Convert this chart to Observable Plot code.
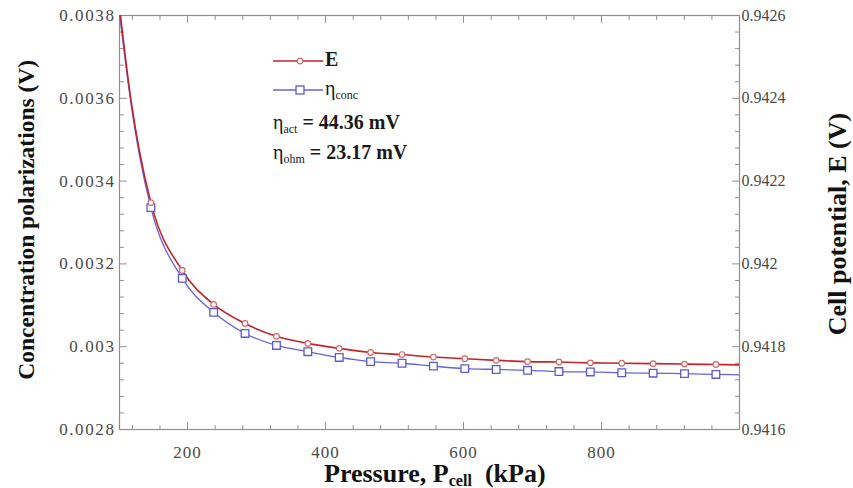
<!DOCTYPE html>
<html>
<head>
<meta charset="utf-8">
<script src="https://cdn.jsdelivr.net/npm/d3@7"></script>
<script src="https://cdn.jsdelivr.net/npm/@observablehq/plot@0.6"></script>
<style>
  body { margin: 0; background: #fff; }
  #wrap { position: relative; width: 853px; height: 488px; font-family: "Liberation Serif", "Times New Roman", serif; }
  #wrap svg text { font-family: "Liberation Serif", "Times New Roman", serif; }
  .title { position: absolute; font-weight: bold; color: #111; white-space: nowrap; line-height: 1; }
  .title sub { font-size: 0.62em; vertical-align: -0.22em; }
  .lrow { position: absolute; left: 273px; font-weight: bold; font-size: 20px; color: #1a1a1a; white-space: nowrap; line-height: 1; }
  .lrow sub { font-size: 12px; vertical-align: -4px; }
  .lrow .eta { font-weight: normal; }
</style>
</head>
<body>
<div id="wrap"></div>
<script>
// ----- data -----
const pressure = [101.3, 118, 130, 146.8, 192.3, 237.8, 283.3, 328.8, 374.3, 419.8, 465.3, 510.8, 556.3, 601.8, 647.3, 692.8, 738.3, 783.8, 829.3, 874.8, 920.3, 965.8, 1000];
const hasMarker = [0, 0, 0, 1, 1, 1, 1, 1, 1, 1, 1, 1, 1, 1, 1, 1, 1, 1, 1, 1, 1, 1, 0];
const etaConc = [0.003805, 0.003587, 0.003464, 0.003336, 0.003165, 0.003083, 0.003032, 0.003003, 0.002988, 0.002974, 0.002964, 0.002960, 0.002953, 0.002947, 0.002945, 0.002943, 0.002940, 0.002939, 0.002937, 0.002936, 0.002935, 0.002933, 0.002932];
const cellPotential = [0.94262, 0.942395, 0.942274, 0.942148, 0.941984, 0.941902, 0.941856, 0.941825, 0.941808, 0.941796, 0.941786, 0.941781, 0.941775, 0.941771, 0.941767, 0.941764, 0.941763, 0.941761, 0.941760, 0.941759, 0.941758, 0.941757, 0.941756];

const xMajorTicks = [200, 400, 600, 800];
const xMinorTicks = [120, 160, 240, 280, 320, 360, 440, 480, 520, 560, 640, 680, 720, 760, 840, 880, 920, 960];
const leftTicks = [0.0028, 0.0030, 0.0032, 0.0034, 0.0036, 0.0038];
const leftTickLabels = ["0.0028", "0.003", "0.0032", "0.0034", "0.0036", "0.0038"];
const rightTicks = [0.9416, 0.9418, 0.9420, 0.9422, 0.9424, 0.9426];
const rightTickLabels = ["0.9416", "0.9418", "0.942", "0.9422", "0.9424", "0.9426"];
const yMinorStep = 0.00004;

const leftDomain = [0.0028, 0.0038];
const rightDomain = [0.9416, 0.9426];
// map right-axis (E) values onto the left scale
const toLeft = v => leftDomain[0] + (v - rightDomain[0]) * (leftDomain[1] - leftDomain[0]) / (rightDomain[1] - rightDomain[0]);

const rows = pressure.map((p, i) => ({p, eta: etaConc[i], e: toLeft(cellPotential[i]), m: hasMarker[i]}));
const markRows = rows.filter(d => d.m);

const yMinorLeft = d3.range(0, 26).map(i => leftDomain[0] + i * yMinorStep).filter(v => !leftTicks.some(t => Math.abs(t - v) < 1e-9));

const tickShape = {draw(ctx, l) { ctx.moveTo(0, 0); ctx.lineTo(0, -l); }};
const axisColor = "#8f8f8f";
const labelColor = "#4a4a4a";
const redLine = "#c3242c", blueLine = "#6464d8", redMark = "#d26a6a", blueMark = "#5a5ad2";

function ticksAt(data, anchor, length, isX) {
  const rotate = {bottom: 0, top: 180, left: 90, right: -90}[anchor];
  return Plot.vector(data, {
    [isX ? "x" : "y"]: d => d,
    frameAnchor: anchor, length, rotate, anchor: "start", shape: tickShape,
    stroke: axisColor, strokeWidth: 1
  });
}

const chart = Plot.plot({
  width: 853,
  height: 488,
  marginLeft: 119,
  marginRight: 114,
  marginTop: 15,
  marginBottom: 59,
  style: {fontFamily: '"Liberation Serif", "Times New Roman", serif', fontSize: "16px", background: "white"},
  x: {domain: [101.3, 1000]},
  y: {domain: leftDomain},
  marks: [
    Plot.frame({stroke: axisColor, strokeWidth: 1.2}),
    ticksAt(xMajorTicks, "bottom", 7, true),
    ticksAt(xMinorTicks, "bottom", 4, true),
    ticksAt(xMajorTicks, "top", 7, true),
    ticksAt(xMinorTicks, "top", 4, true),
    ticksAt(leftTicks, "left", 7, false),
    ticksAt(yMinorLeft, "left", 4, false),
    ticksAt(leftTicks, "right", 7, false),
    ticksAt(yMinorLeft, "right", 4, false),
    Plot.axisX({ticks: xMajorTicks, tickSize: 0, tickPadding: 16, tickFormat: d => String(d), fill: labelColor, fontSize: 17, label: null}),
    Plot.axisY({anchor: "left", ticks: leftTicks, tickSize: 0, tickPadding: 4, tickFormat: (d, i) => leftTickLabels[i], fill: labelColor, fontSize: 17, label: null}),
    Plot.axisY({anchor: "right", ticks: rightTicks.map(toLeft), tickSize: 0, tickPadding: 2, tickFormat: (d, i) => rightTickLabels[i], fill: labelColor, fontSize: 16, label: null}),
    Plot.line(rows, {x: "p", y: "eta", stroke: blueLine, strokeWidth: 1.3, curve: "monotone-x", clip: true}),
    Plot.line(rows, {x: "p", y: "e", stroke: redLine, strokeWidth: 1.6, curve: "monotone-x", clip: true}),
    Plot.dot(markRows, {x: "p", y: "eta", symbol: "square", r: 4.3, stroke: blueMark, strokeWidth: 1.3, fill: "white", clip: true}),
    Plot.dot(markRows, {x: "p", y: "e", symbol: "circle", r: 2.8, stroke: redMark, strokeWidth: 1.2, fill: "white", clip: true})
  ]
});

// slightly widen the horizontal tick labels, as in the reference
const yLabelGroups = chart.querySelectorAll('g[aria-label="y-axis tick label"]');
if (yLabelGroups[0]) yLabelGroups[0].querySelectorAll("text").forEach(t => t.style.letterSpacing = "1.6px");
chart.querySelectorAll('g[aria-label="x-axis tick label"] text').forEach(t => t.style.letterSpacing = "1px");

const wrap = document.getElementById("wrap");
chart.style.position = "absolute";
chart.style.left = "0px";
chart.style.top = "0px";
wrap.appendChild(chart);

function addTitle(html, cx, cy, rot, size) {
  const d = document.createElement("div");
  d.className = "title";
  d.style.fontSize = size + "px";
  d.innerHTML = html;
  wrap.appendChild(d);
  const w = d.offsetWidth, h = d.offsetHeight;
  d.style.left = (cx - w / 2) + "px";
  d.style.top = (cy - h / 2) + "px";
  if (rot) d.style.transform = `rotate(${rot}deg)`;
}
addTitle("Concentration polarizations (V)", 27, 220, -90, 23.5);
addTitle("Cell potential, E (V)", 838, 224, -90, 26);
addTitle("Pressure, P<sub>cell</sub>&nbsp; (kPa)", 435, 475, 0, 26);

// legend
function sample(symbol) {
  const s = d3.create("svg").attr("width", 50).attr("height", 14).style("vertical-align", "middle").style("margin-right", "2px");
  s.append("line").attr("x1", 0).attr("x2", 50).attr("y1", 7).attr("y2", 7)
    .attr("stroke", symbol === "circle" ? redLine : blueLine).attr("stroke-width", 1.5);
  if (symbol === "circle") s.append("circle").attr("cx", 27).attr("cy", 7).attr("r", 2.8).attr("fill", "white").attr("stroke", redMark).attr("stroke-width", 1.2);
  else s.append("rect").attr("x", 23).attr("y", 3).attr("width", 8).attr("height", 8).attr("fill", "white").attr("stroke", blueMark).attr("stroke-width", 1.3);
  return s.node();
}
function legendRow(cy, build) {
  const r = document.createElement("div");
  r.className = "lrow";
  build(r);
  wrap.appendChild(r);
  r.style.top = (cy - r.offsetHeight / 2) + "px";
}
legendRow(59, r => { r.appendChild(sample("circle")); r.insertAdjacentHTML("beforeend", "<span>E</span>"); });
legendRow(89, r => { r.appendChild(sample("square")); r.insertAdjacentHTML("beforeend", "<span class='eta'>η<sub>conc</sub></span>"); });
legendRow(123, r => { r.innerHTML = "<span class='eta'>η<sub>act</sub></span> = 44.36 mV"; });
legendRow(153, r => { r.innerHTML = "<span class='eta'>η<sub>ohm</sub></span> = 23.17 mV"; });
</script>
</body>
</html>
